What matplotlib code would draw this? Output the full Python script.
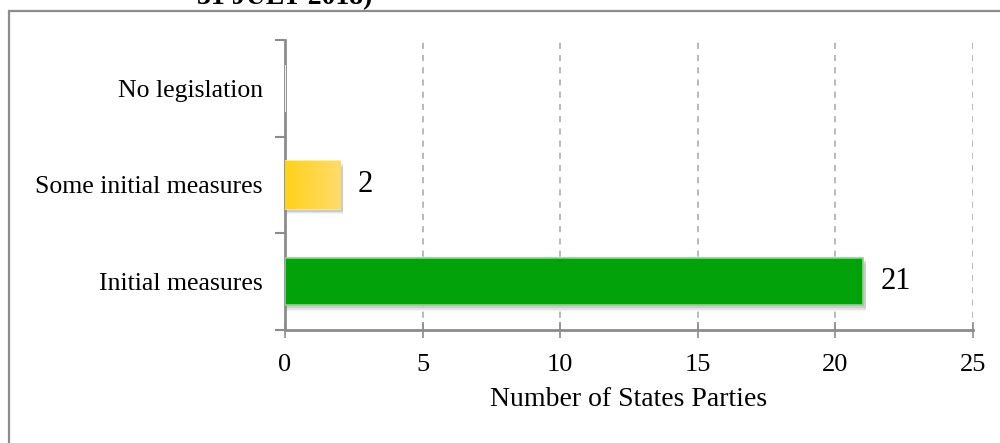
import numpy as np
import matplotlib.pyplot as plt
from matplotlib.patches import Rectangle
from matplotlib.colors import LinearSegmentedColormap

categories = ["Initial measures", "Some initial measures", "No legislation"]
counts = [21, 2, 0]
bar_colors = ["#02A20A", "#FFD62E", "#FFFFFF"]
edge_colors = ["#8ED48F", "#FFE9A0", "#FFFFFF"]
xticks = [0, 5, 10, 15, 20, 25]

plt.rcParams["font.family"] = ["Liberation Serif", "DejaVu Serif"]

fig = plt.figure(figsize=(10, 4.43), dpi=100)
ax = fig.add_axes([0.285, 0.255, 0.688, 0.655])

# outer frame of the chart area
fig.patches.append(Rectangle((0.009, -0.1), 1.2, 1.075, transform=fig.transFigure,
                             fill=False, edgecolor="#8C8C8C", linewidth=1.6))
fig.text(0.197, 0.99, "31 JULY 2018)", fontsize=20, fontweight="bold",
         ha="left", va="baseline")

ypos = np.arange(len(categories))
height = 0.49

# soft drop shadow under the bars
for y, v in zip(ypos, counts):
    if v > 0:
        for k, a in enumerate([0.10, 0.07, 0.04]):
            ax.barh(y - 0.03 - 0.015 * k, v + 0.08, height=height, left=0.02,
                    color="black", alpha=a, linewidth=0, zorder=2)

bars = ax.barh(ypos, counts, height=height, color=bar_colors,
               edgecolor=edge_colors, linewidth=1.2, zorder=3)

# yellow bar gets a light horizontal gradient
grad = LinearSegmentedColormap.from_list("gold", ["#FFD21A", "#FFDB6A"])
b = bars[1]
img = ax.imshow(np.linspace(0, 1, 64).reshape(1, -1), cmap=grad, aspect="auto",
                extent=(b.get_x(), b.get_x() + b.get_width(),
                        b.get_y(), b.get_y() + b.get_height()), zorder=3.5)
img.set_clip_path(b)

for y, v in zip(ypos, counts):
    if v > 0:
        ax.text(v + 0.65, y, str(v), fontsize=22, va="center", ha="left", zorder=5)

ax.set_xlim(0, 25)
ax.set_ylim(-0.5, 2.5)
ax.set_xticks(xticks)
ax.set_xticklabels([str(t) for t in xticks], fontsize=19)
ax.set_yticks(ypos)
ax.set_yticklabels(categories, fontsize=18.5)
ax.set_yticks([-0.5, 0.5, 1.5, 2.5], minor=True)
ax.tick_params(axis="y", which="major", length=0, pad=16)
ax.tick_params(axis="y", which="minor", length=7, width=1.5, color="#8C8C8C")
ax.tick_params(axis="x", direction="inout", length=12, width=1.2, color="#8C8C8C", pad=11)

ax.xaxis.grid(True, linestyle=(0, (4, 4)), color="#A6A6A6", linewidth=1.1, zorder=1)
ax.set_axisbelow(True)
for s in ["top", "right"]:
    ax.spines[s].set_visible(False)
for s in ["left", "bottom"]:
    ax.spines[s].set_color("#8C8C8C")
    ax.spines[s].set_linewidth(2)

ax.set_xlabel("Number of States Parties", fontsize=20, labelpad=8)

fig.savefig("out.png", dpi=100)
